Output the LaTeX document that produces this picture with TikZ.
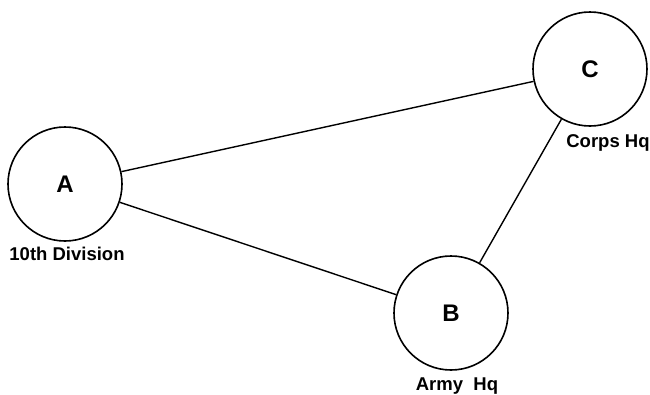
\documentclass[tikz,border=0pt]{standalone}
\usepackage{fontspec}
\setmainfont{Liberation Sans}
\usetikzlibrary{positioning}

\tikzset{
  hq/.style={circle, draw, line width=1.6pt, minimum size=114pt, inner sep=0pt,
    font=\fontsize{24pt}{24pt}\selectfont\bfseries},
  hqname/.style={inner sep=0pt, anchor=north,
    font=\fontsize{18.5pt}{18.5pt}\selectfont\bfseries},
}

\begin{document}
\begin{tikzpicture}[x=1pt,y=-1pt]
\useasboundingbox (0,0) rectangle (650,394);

\node[hq] (A) at (65,184) {A};
\node[hq] (B) at (451,313) {B};
\node[hq] (C) at (590,69) {C};

\draw[line width=1.4pt] (A) -- (C);
\draw[line width=1.4pt] (A) -- (B);
\draw[line width=1.4pt] (B) -- (C);

\node[hqname, below=5pt of A.south, xshift=2pt] (divname) {10th Division};
\node[hqname, below=7pt of B.south, xshift=6pt] (armyname) {Army\ \ Hq};
\node[hqname, below=8pt of C.south, xshift=18pt] (corpsname) {Corps Hq};

\end{tikzpicture}
\end{document}
